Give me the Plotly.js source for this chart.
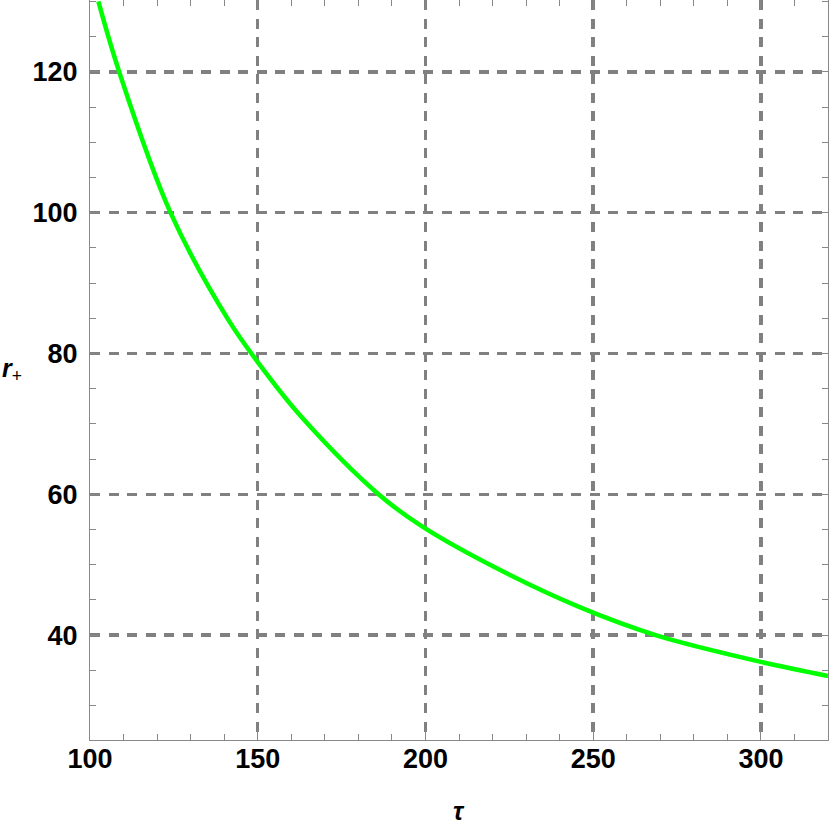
<!DOCTYPE html>
<html>
<head>
<meta charset="utf-8">
<script src="https://cdn.plot.ly/plotly-3.0.1.min.js"></script>
<style>html,body{margin:0;padding:0;background:#fff;}#chart{width:830px;height:833px;}</style>
</head>
<body>
<div id="chart"></div>
<script>
// Data
const tau = [102.5, 108.7, 124.0, 141.2, 150.9, 163.0, 186.0, 199.1, 222.0, 245.8, 268.6, 300.0, 320.0];
const rPlus = [130.0, 120.0, 100.0, 84.8, 78.2, 71.0, 60.0, 55.4, 49.3, 44.0, 40.0, 36.2, 34.2];
const xTicks = [100, 150, 200, 250, 300];
const yTicks = [40, 60, 80, 100, 120];

const frameColor = '#888888';
const gridStyle = {showgrid: true, gridcolor: '#808080', gridwidth: 3.5, griddash: '10px,8.5px'};
const tickFont = {family: 'Liberation Sans, Arial, sans-serif', size: 27, color: '#000'};

const trace = {
  x: tau, y: rPlus, type: 'scatter', mode: 'lines',
  line: {color: '#00ff00', width: 4.5, shape: 'spline', smoothing: 1.0},
  hoverinfo: 'skip'
};

const layout = {
  width: 830, height: 833,
  margin: {l: 90, r: 2, t: 0, b: 93},
  paper_bgcolor: '#fff', plot_bgcolor: '#fff',
  showlegend: false,
  xaxis: Object.assign({
    range: [100, 320], tickmode: 'array', tickvals: xTicks,
    ticktext: xTicks.map(v => '<b>' + v + '</b>'),
    ticks: 'inside', ticklen: 10, tickwidth: 1, tickcolor: frameColor,
    showline: true, linecolor: frameColor, linewidth: 1, mirror: 'ticks',
    zeroline: false, tickfont: tickFont, ticklabelstandoff: -5,
    minor: {dtick: 10, tick0: 0, ticks: 'inside', ticklen: 6, tickcolor: frameColor, showgrid: false}
  }, gridStyle),
  yaxis: Object.assign({
    range: [25.1, 130.2], tickmode: 'array', tickvals: yTicks,
    ticktext: yTicks.map(v => '<b>' + v + '</b>'),
    ticks: 'inside', ticklen: 10, tickwidth: 1, tickcolor: frameColor,
    showline: true, linecolor: frameColor, linewidth: 1, mirror: 'ticks',
    zeroline: false, tickfont: tickFont, ticklabelstandoff: 6,
    minor: {dtick: 5, tick0: 0, ticks: 'inside', ticklen: 6, tickcolor: frameColor, showgrid: false}
  }, gridStyle),
  annotations: [
    {text: '<b><i>τ</i></b>', xref: 'paper', yref: 'paper', x: 0.5, y: 0,
     xanchor: 'center', yanchor: 'middle', yshift: -71, showarrow: false,
     font: {family: 'Liberation Sans, Arial, sans-serif', size: 25, color: '#000'}},
    {text: '<b><i>r</i></b><sub>+</sub>', xref: 'paper', yref: 'paper', x: 0, y: 0.5,
     xanchor: 'center', yanchor: 'middle', xshift: -78, showarrow: false,
     font: {family: 'Liberation Sans, Arial, sans-serif', size: 25, color: '#000'}}
  ]
};

Plotly.newPlot('chart', [trace], layout, {displayModeBar: false, staticPlot: true});
</script>
</body>
</html>
